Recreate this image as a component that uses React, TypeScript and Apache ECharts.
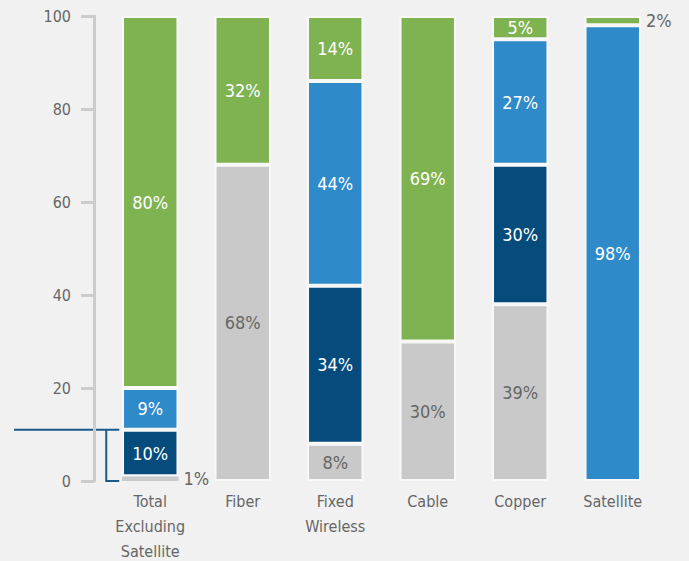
import React, { useEffect, useRef } from "react";
import * as echarts from "echarts";

const categories = ["Total\nExcluding\nSatellite", "Fiber", "Fixed\nWireless", "Cable", "Copper", "Satellite"];
const grayValues = [1, 68, 8, 30, 38, 0];
const darkValues = [10, 0, 34, 0, 30, 0];
const blueValues = [9, 0, 44, 0, 27, 98];
const greenValues = [80, 32, 14, 70, 5, 2];
const grayLabels = ["1%", "68%", "8%", "30%", "39%", ""];
const darkLabels = ["10%", "", "34%", "", "30%", ""];
const blueLabels = ["9%", "", "44%", "", "27%", "98%"];
const greenLabels = ["80%", "32%", "14%", "69%", "5%", "2%"];
const yTicks = [0, 20, 40, 60, 80, 100];

const FONT = "'Liberation Sans Narrow', 'DejaVu Sans Condensed', 'Roboto Condensed', sans-serif";
const BG = "#f1f1f1";
const GAP = "#f8f8f8";

export default function App() {
  const ref = useRef<HTMLDivElement>(null);
  useEffect(() => {
    if (!ref.current) return;
    const chart = echarts.init(ref.current, undefined, { renderer: "svg" });
    const mk = (
      name: string,
      values: number[],
      labels: string[],
      color: string,
      textColor: string,
      outside: number[]
    ) => ({
      name,
      type: "bar",
      stack: "s",
      barWidth: "61%",
      data: values.map((v, i) => ({
        value: v,
        label: outside.includes(i)
          ? { show: true, position: "right", distance: 5, color: "#666" }
          : undefined,
        itemStyle: v < 2 ? { borderWidth: 0 } : undefined,
      })),
      itemStyle: { color, borderColor: GAP, borderWidth: 2 },
      label: {
        show: true,
        position: "inside",
        color: textColor,
        fontFamily: FONT,
        fontSize: 18,
        formatter: (p: any) => (p.value > 0 ? labels[p.dataIndex] : ""),
      },
    });
    chart.setOption({
      animation: false,
      backgroundColor: BG,
      grid: { left: 104, right: 30, top: 16, bottom: 80, outerBoundsMode: "none", containLabel: false },
      xAxis: {
        type: "category",
        data: categories,
        axisLine: { show: false },
        axisTick: { show: false },
        axisLabel: {
          color: "#666",
          fontFamily: FONT,
          fontSize: 16,
          lineHeight: 25,
          margin: 8,
          interval: 0,
        },
      },
      yAxis: {
        type: "value",
        min: 0,
        max: 100,
        interval: 20,
        offset: 10,
        splitLine: { show: false },
        axisLine: { show: true, lineStyle: { color: "#cccccc", width: 3 } },
        axisTick: { show: true, length: 13, lineStyle: { color: "#cccccc", width: 3 } },
        axisLabel: {
          color: "#666",
          fontFamily: FONT,
          fontSize: 16,
          margin: 23,
          formatter: (v: number) => (yTicks.includes(v) ? String(v) : ""),
        },
      },
      series: [
        mk("gray", grayValues, grayLabels, "#c9c9c9", "#666", [0]),
        mk("dark", darkValues, darkLabels, "#054c7c", "#ffffff", []),
        mk("blue", blueValues, blueLabels, "#2f8aca", "#ffffff", []),
        mk("green", greenValues, greenLabels, "#7fb351", "#ffffff", [5]),
      ],
    });
    const top = chart.convertToPixel({ gridIndex: 0 }, [0, grayValues[0] + darkValues[0]]) as number[];
    const bottom = chart.convertToPixel({ gridIndex: 0 }, [0, 0]) as number[];
    const barLeft = top[0] - 28 - 3;
    const vx = barLeft - 13;
    chart.setOption({
      graphic: [
        {
          type: "polyline",
          shape: { points: [[14, top[1]], [barLeft, top[1]]] },
          style: { stroke: "#1b5a8a", lineWidth: 2, fill: null },
        },
        {
          type: "polyline",
          shape: { points: [[vx, top[1]], [vx, bottom[1]], [barLeft, bottom[1]]] },
          style: { stroke: "#1b5a8a", lineWidth: 2, fill: null },
        },
      ],
    });
    return () => chart.dispose();
  }, []);
  return <div ref={ref} style={{ width: 689, height: 561, position: "absolute", left: 0, top: 0 }} />;
}
